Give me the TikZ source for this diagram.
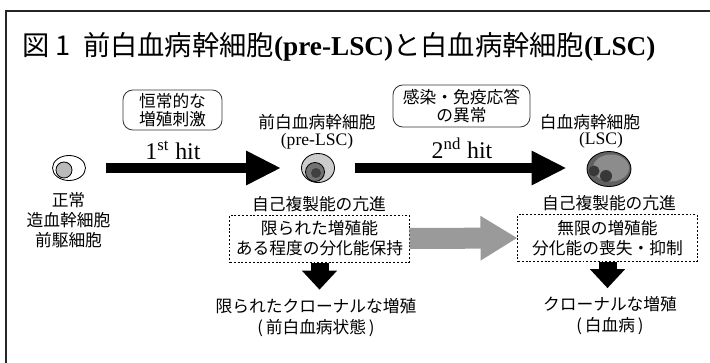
\documentclass[tikz,border=0pt]{standalone}
\usepackage{fontspec}
\setmainfont{Liberation Serif}
\newfontfamily\jpfont{Noto Sans CJK JP}
\usetikzlibrary{shapes.geometric,arrows.meta}
\definecolor{flowgray}{HTML}{9A9A9A}
\newcommand\jptext{\jpfont\fontsize{11.9pt}{14.2pt}\selectfont}
\begin{document}
\begin{tikzpicture}[x=0.025cm,y=-0.025cm,
  lbl/.style={inner sep=0pt,align=center,font=\jptext},
  tag/.style={inner sep=0pt,font=\fontsize{12.5pt}{12.5pt}\selectfont},
  causebox/.style={draw=black!80,line width=0.6pt,rounded corners=7pt,align=center,
    inner sep=0pt,minimum height=1cm,font=\jpfont\fontsize{11.9pt}{12.6pt}\selectfont},
  featbox/.style={draw,line width=0.7pt,dash pattern=on 1.4pt off 1.3pt,align=center,
    inner sep=0pt,minimum width=4.475cm,minimum height=1.175cm,font=\jptext},
  cell/.style={ellipse,draw,line width=0.6pt,inner sep=0pt},
  hitlabel/.style={inner sep=0pt,font=\fontsize{17pt}{17pt}\selectfont},
  hitarrow/.style={line width=0.25cm,-{Triangle[length=0.875cm,width=0.8cm]},
    shorten <=0.5cm,shorten >=0.5cm},
  downarrow/.style={line width=0.45cm,-{Triangle[length=0.475cm,width=0.85cm]},
    shorten >=0.21cm}
]
\useasboundingbox (0,0) rectangle (710,362);
\begin{scope}
  \clip (0,0) rectangle (710,362);
  \draw[line width=1.4pt,black!85] (6,11) rectangle (740,390);
\end{scope}

% title
\node[anchor=west,inner sep=0pt,font=\jpfont\fontsize{19.4pt}{19.4pt}\selectfont] (title) at (22,47)
  {図 1\hspace{0.45em}前白血病幹細胞{\rmfamily\bfseries(pre-LSC)}と白血病幹細胞{\rmfamily\bfseries(LSC)}};

% cells
\node[cell,fill=white,minimum width=0.825cm,minimum height=0.625cm] (normal) at (69,168) {};
\draw[line width=0.6pt,fill=black!27] (64,170) circle (8);
\node[cell,fill=black!20,minimum width=0.825cm,minimum height=0.725cm] (pre) at (318,168) {};
\draw[line width=0.6pt,fill=black!55] (315,172) circle (9.5);
\fill[black!75] (316,173) circle (5);
\node[cell,fill=black!62,minimum width=1.1cm,minimum height=0.875cm] (lsc) at (609,169) {};
\fill[black!45] (611,168) ellipse (18 and 13.5);
\fill[black!78] (594,171) circle (5.5) (606,176) circle (6);

\node[lbl] (normtxt) at (68.5,220) {正常\\造血幹細胞\\前駆細胞};
\node[lbl] (prename) at (317,122) {前白血病幹細胞};
\node[tag] (pretag) at (317,141) {(pre-LSC)};
\node[lbl] (lscname) at (590,122) {白血病幹細胞};
\node[tag] (lsctag) at (601,140) {(LSC)};

% hits
\node[causebox,minimum width=2.475cm] (cause1) at (172.5,110) {恒常的な\\増殖刺激};
\node[causebox,minimum width=3.425cm,minimum height=1.05cm] (cause2) at (461.5,106) {感染・免疫応答\\の異常};
\node[hitlabel] (hit1) at (173,150) {1\textsuperscript{st} hit};
\node[hitlabel] (hit2) at (462,148) {2\textsuperscript{nd} hit};
\draw[hitarrow] (normal.east) -- (pre.west);
\draw[hitarrow] (pre.east) -- (pre.east -| lsc.west);

% properties
\node[lbl] (self1) at (319,204) {自己複製能の亢進};
\node[lbl] (self2) at (609,203) {自己複製能の亢進};
\node[featbox] (feat1) at (319.5,238.5) {限られた増殖能\\ある程度の分化能保持};
\node[featbox] (feat2) at (607.5,238) {無限の増殖能\\分化能の喪失・抑制};
\draw[line width=0.525cm,flowgray,-{Triangle[length=0.925cm,width=1.05cm]}] (feat1.east) -- (feat2.west);

% outcomes
\node[lbl,font=\jpfont\fontsize{11.9pt}{14.9pt}\selectfont] (res1) at (316,317.5)
  {限られたクローナルな増殖\\(\,前白血病状態\,)};
\node[lbl,font=\jpfont\fontsize{11.9pt}{14.9pt}\selectfont] (res2) at (610,316)
  {クローナルな増殖\\(\,白血病\,)};
\draw[downarrow] (feat1.south) -- (feat1.south |- res1.north);
\draw[downarrow] (feat2.south) -- (feat2.south |- res2.north);
\end{tikzpicture}
\end{document}
